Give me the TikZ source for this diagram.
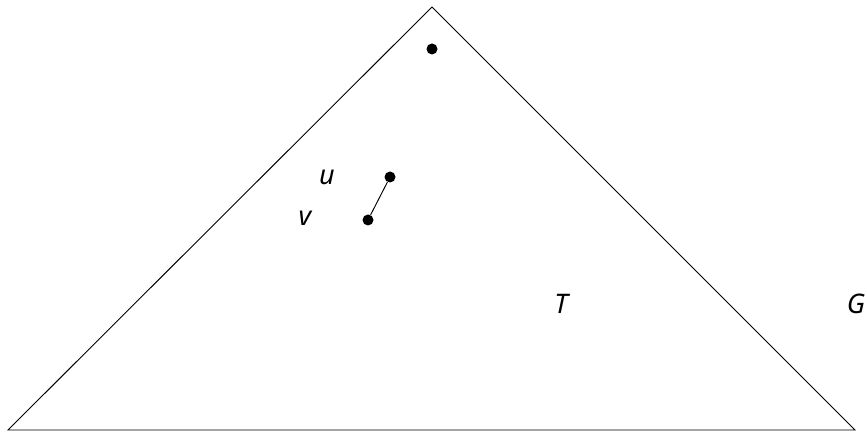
\documentclass[tikz,border=0pt]{standalone}
\usepackage{fontspec}
\setmainfont{Noto Sans}
\usetikzlibrary{positioning}

\begin{document}
\begin{tikzpicture}[
    x=0.03cm, y=-0.03cm,
    vertex/.style={circle, fill=black, inner sep=0pt, minimum size=0.33cm},
    lbl/.style={font=\fontsize{23}{27}\selectfont\itshape, inner sep=0pt},
    edge/.style={line width=0.8pt}
]
\useasboundingbox (0,0) rectangle (867,432);

% Tree outline
\coordinate (apex) at (432,7);
\coordinate (left) at (8,430);
\coordinate (right) at (855,430);
\draw[edge, line join=miter] (left) -- (apex) -- (right) -- cycle;

% Vertices
\node[vertex] (root) at (432,49) {};
\node[vertex] (u) at (390,177) {};
\node[vertex] (v) at (368,220) {};

% Edge between u and v
\draw[edge] (u) -- (v);

% Labels
\node[lbl] (ulbl) at (327,177) {u};
\node[lbl] (vlbl) at (305,218) {v};
\node[lbl] (tlbl) at (561,304) {T};
\node[lbl] (glbl) at (856,304) {G};

\end{tikzpicture}
\end{document}
